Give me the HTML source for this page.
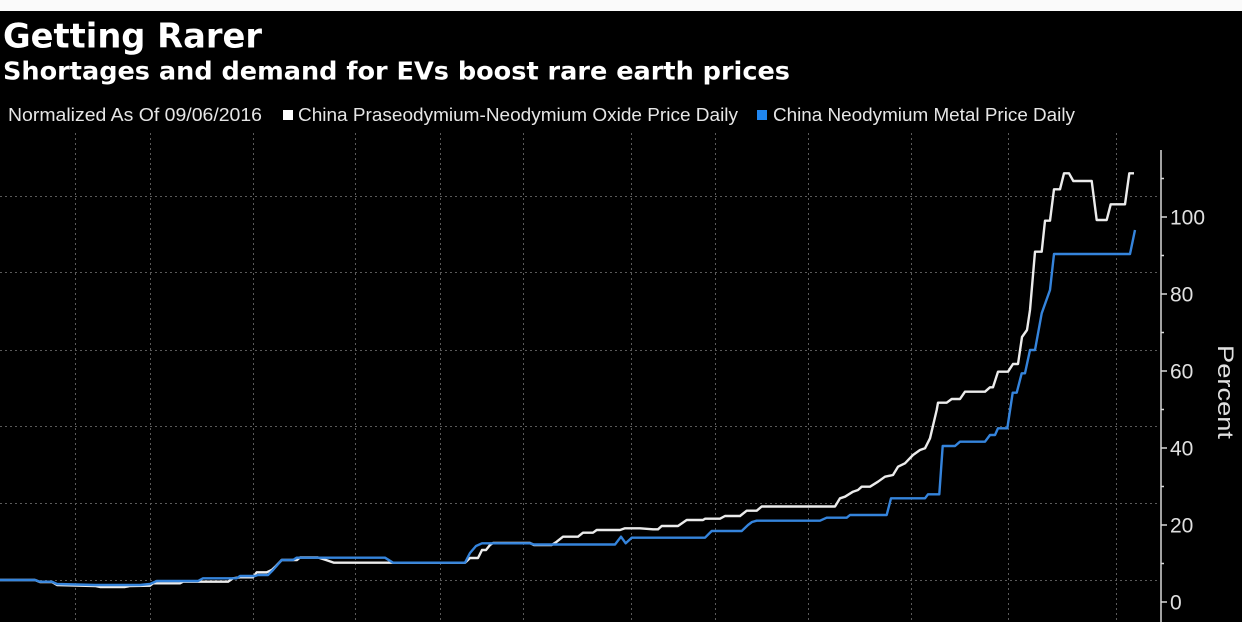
<!DOCTYPE html>
<html>
<head>
<meta charset="utf-8">
<style>
  html, body { margin:0; padding:0; background:#000; }
  body { width:1242px; height:622px; overflow:hidden; position:relative; }
  svg { display:block; }
</style>
</head>
<body>
<svg width="1242" height="622" viewBox="0 0 1242 622" xmlns="http://www.w3.org/2000/svg">
  <rect x="0" y="0" width="1242" height="622" fill="#000"/>
  <rect x="0" y="0" width="1242" height="11" fill="#fafafa"/>

  <!-- Titles -->
  <text x="3" y="47.5" font-family="DejaVu Sans, Liberation Sans, sans-serif" font-weight="bold" font-size="34" fill="#ffffff" textLength="259" lengthAdjust="spacingAndGlyphs">Getting Rarer</text>
  <text x="3" y="79.5" font-family="DejaVu Sans, Liberation Sans, sans-serif" font-weight="bold" font-size="25" fill="#ffffff" textLength="787" lengthAdjust="spacingAndGlyphs">Shortages and demand for EVs boost rare earth prices</text>

  <!-- Legend -->
  <text x="8" y="121" font-family="Liberation Sans, sans-serif" font-size="18" fill="#e6e6e6" textLength="254" lengthAdjust="spacingAndGlyphs">Normalized As Of 09/06/2016</text>
  <rect x="283" y="110" width="10" height="10" fill="#ffffff"/>
  <text x="298" y="121" font-family="Liberation Sans, sans-serif" font-size="18" fill="#e6e6e6" textLength="440" lengthAdjust="spacingAndGlyphs">China Praseodymium-Neodymium Oxide Price Daily</text>
  <rect x="757" y="110" width="10" height="10" fill="#1f86f0"/>
  <text x="773" y="121" font-family="Liberation Sans, sans-serif" font-size="18" fill="#e6e6e6" textLength="302" lengthAdjust="spacingAndGlyphs">China Neodymium Metal Price Daily</text>

  <!-- Grid -->
  <g stroke="#5a5a5a" stroke-width="1" stroke-dasharray="2,3" fill="none">
    <line x1="0" y1="580.5" x2="1158" y2="580.5"/>
    <line x1="0" y1="503.5" x2="1158" y2="503.5"/>
    <line x1="0" y1="426.5" x2="1158" y2="426.5"/>
    <line x1="0" y1="350.5" x2="1158" y2="350.5"/>
    <line x1="0" y1="272.5" x2="1158" y2="272.5"/>
    <line x1="0" y1="196.5" x2="1158" y2="196.5"/>
    <line x1="75.5" y1="133" x2="75.5" y2="622"/>
    <line x1="150.5" y1="133" x2="150.5" y2="622"/>
    <line x1="253.5" y1="133" x2="253.5" y2="622"/>
    <line x1="355.5" y1="133" x2="355.5" y2="622"/>
    <line x1="440.5" y1="133" x2="440.5" y2="622"/>
    <line x1="523.5" y1="133" x2="523.5" y2="622"/>
    <line x1="631.5" y1="133" x2="631.5" y2="622"/>
    <line x1="715.5" y1="133" x2="715.5" y2="622"/>
    <line x1="808.5" y1="133" x2="808.5" y2="622"/>
    <line x1="911.5" y1="133" x2="911.5" y2="622"/>
    <line x1="1008.5" y1="133" x2="1008.5" y2="622"/>
    <line x1="1116.5" y1="133" x2="1116.5" y2="622"/>
  </g>

  <!-- Axis -->
  <g stroke="#d8d8d8" stroke-width="1.5" fill="none">
    <line x1="1161" y1="150" x2="1161" y2="622"/>
    <line x1="1161" y1="602" x2="1167" y2="602"/>
    <line x1="1161" y1="525" x2="1167" y2="525"/>
    <line x1="1161" y1="448" x2="1167" y2="448"/>
    <line x1="1161" y1="371" x2="1167" y2="371"/>
    <line x1="1161" y1="294" x2="1167" y2="294"/>
    <line x1="1161" y1="217" x2="1167" y2="217"/>
    <line x1="1161" y1="563.5" x2="1164" y2="563.5"/>
    <line x1="1161" y1="486.5" x2="1164" y2="486.5"/>
    <line x1="1161" y1="409.5" x2="1164" y2="409.5"/>
    <line x1="1161" y1="332.5" x2="1164" y2="332.5"/>
    <line x1="1161" y1="255.5" x2="1164" y2="255.5"/>
    <line x1="1161" y1="178.5" x2="1164" y2="178.5"/>
  </g>
  <g font-family="Liberation Sans, sans-serif" font-size="21" fill="#e0e0e0">
    <text x="1170" y="609.5">0</text>
    <text x="1170" y="532.5">20</text>
    <text x="1170" y="455.5">40</text>
    <text x="1170" y="378.5">60</text>
    <text x="1170" y="301.5">80</text>
    <text x="1170" y="224.5" textLength="35" lengthAdjust="spacingAndGlyphs">100</text>
  </g>
  <text transform="translate(1218,345) rotate(90)" x="0" y="0" font-family="Liberation Sans, sans-serif" font-size="22" fill="#e0e0e0" textLength="94" lengthAdjust="spacingAndGlyphs">Percent</text>

  <!-- White series -->
  <polyline fill="none" stroke="#ececec" stroke-width="2.4" stroke-linejoin="round" points="
    0,580 35,580 40,582 52,582 57,585 95,586 100,587 125,587 130,586 150,585.7 153,583.3 180,583.3 183,581.7 228,581.7 233,578.3 240,577.3 253,577.3 256.7,572.3 266.7,572.3 271.7,570 276,566 281.7,560 297,560 300,557.5 318,557.5 326,560 334,562.7 465,562.7 470,558 478,558 482,550 486,550 490,545 493,543 530,543 534,545 551.7,545 556.7,541.7 563,536.7 578,536.7 583,532.7 593,532.7 596.7,530 620,530 625,528.3 640,528.3 653,529.3 658,529.3 661.7,526 678,526 686.7,520 703,520 705,518.7 720,518.7 725,516 740,516 746.7,510.7 756.7,510.7 761.7,506.5 835,506.5 840,498.3 845,496.7 853,491.7 858,490 861.7,486.7 870,486.7 878,481.7 885,476.7 893,475 898,466.7 905,463.3 913,455 920,450 925,448.3 930,438.3 936.7,410 938,402.7 946.7,402.7 951.7,399 960,399 965,391.7 985,391.7 990,387.3 993,387.3 998,371.7 1008,371.7 1013,364 1018,364 1022,337 1027,330 1030,310 1035,251.7 1041.7,251.7 1045,220.7 1050,220.7 1054,189.3 1060,189.3 1064,173.3 1069,173.3 1073.3,181 1091.7,181 1096.7,220 1106.7,220 1110.7,204.3 1125,204.3 1129.3,173.3 1134,173.3"/>

  <!-- Blue series -->
  <polyline fill="none" stroke="#3584dc" stroke-width="2.4" stroke-linejoin="round" points="
    0,580 35,580 40,581.7 52,581.7 57,584 95,585 140,585 150,584 156.7,581 198,581 203,578.3 236.7,578.3 240,576 255,576 258,575 268,575 273,570 281.7,560 293,560 296.7,557.7 385,557.7 393,562.7 465,562.7 470,553 476,546 482,543.3 530,543.3 534,544.5 615,544.5 621,536.7 625.7,543.3 631.7,537.7 705,537.7 711.7,531 741.7,531 748,525 752,522 756.7,520.7 820,520.7 826.7,517.7 846.7,517.7 850,515 886.7,515 891,498.3 925,498.3 928,494.3 939.3,494.3 942.7,446 955,446 960,441.7 985,441.7 990,435 995,435 998,428.3 1007.3,428.3 1012.7,392.7 1016.7,392.7 1021.7,373.3 1025,373.3 1030,350 1035,350 1041.7,313.3 1050,290 1054,254 1130,254 1135,230"/>
</svg>
</body>
</html>
